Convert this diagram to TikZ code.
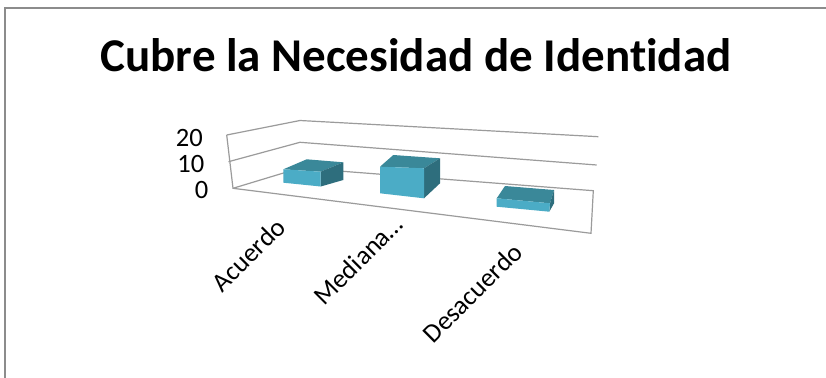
\documentclass[tikz,border=0pt]{standalone}
\usepackage{fontspec}
\setmainfont[Ligatures=CommonOff]{Carlito}
\definecolor{gridc}{RGB}{155,155,155}
\definecolor{framec}{RGB}{140,140,140}
\definecolor{barfront}{RGB}{75,172,198}
\definecolor{bartop}{RGB}{58,136,153}
\definecolor{barside}{RGB}{46,110,125}
\begin{document}
\begin{tikzpicture}[x=1pt,y=-1pt,
  gridline/.style={draw=gridc,line width=1.2pt},
  frontface/.style={fill=barfront},
  topface/.style={fill=bartop},
  sideface/.style={fill=barside},
  vallabel/.style={font=\fontsize{26.5}{30}\selectfont,anchor=east,inner sep=0pt},
  catlabel/.style={font=\fontsize{26.5}{30}\selectfont,anchor=base east,rotate=45,inner sep=0pt},
  titlestyle/.style={font=\fontsize{47}{56}\selectfont\bfseries,anchor=base,inner sep=0pt}]
\useasboundingbox (0,0) rectangle (826,377);
\clip (0,0) rectangle (826,377);
\fill[white] (0,0) rectangle (826,377);
% frame
\draw[framec,line width=2pt] (5,390) -- (5,8) -- (840,8);
% title
\node[titlestyle] (title) at (416,72) {Cubre la Necesidad de Identidad};
% walls and floor
\coordinate (lwt) at (226.7,135);
\coordinate (lwm) at (228.5,161.7);
\coordinate (lwb) at (233,188.3);
\coordinate (bwt) at (300,120.5);
\coordinate (bwm) at (300,142.3);
\coordinate (bwb) at (300,168);
\coordinate (rwt) at (598.3,136.7);
\coordinate (rwm) at (596.7,165);
\coordinate (rwb) at (593.3,190.7);
\coordinate (frr) at (591,233.3);
\draw[gridline] (lwt) -- (bwt) -- (rwt);
\draw[gridline] (lwm) -- (bwm) -- (rwm);
\draw[gridline] (lwb) -- (bwb) -- (rwb) -- (frr) -- (lwb) -- (lwt);
% bar 1
\fill[topface] (283.3,169.3) -- (306.7,159.3) -- (343.3,162.3) -- (320.7,171.7) -- cycle;
\fill[sideface] (320.7,171.7) -- (343.3,162.3) -- (343.3,180) -- (320.7,186.5) -- cycle;
\fill[frontface] (283.3,169.3) -- (320.7,171.7) -- (320.7,186.5) -- (283.3,182.7) -- cycle;
% bar 2
\fill[topface] (380,166.7) -- (393.3,155) -- (440,158.3) -- (424,168.3) -- cycle;
\fill[sideface] (424,168.3) -- (440,158.3) -- (440,183.3) -- (424,198.3) -- cycle;
\fill[frontface] (380,166.7) -- (424,168.3) -- (424,198.3) -- (380,193.3) -- cycle;
% bar 3
\fill[topface] (496.7,198.3) -- (505,186) -- (554,190) -- (550,203.3) -- cycle;
\fill[sideface] (550,203.3) -- (554,190) -- (554,203.3) -- (549.3,211.7) -- cycle;
\fill[frontface] (496.7,198.3) -- (550,203.3) -- (549.3,211.7) -- (496.7,206.7) -- cycle;
% value labels
\node[vallabel] (v20) at (203,138) {20};
\node[vallabel] (v10) at (204.5,164) {10};
\node[vallabel] (v0) at (208.5,189.5) {0};
% category labels
\node[catlabel] (c1) at (287,229) {Acuerdo};
\node[catlabel] (c2) at (405,226) {Mediana…};
\node[catlabel] (c3) at (524,254) {Desacuerdo};
\end{tikzpicture}
\end{document}
